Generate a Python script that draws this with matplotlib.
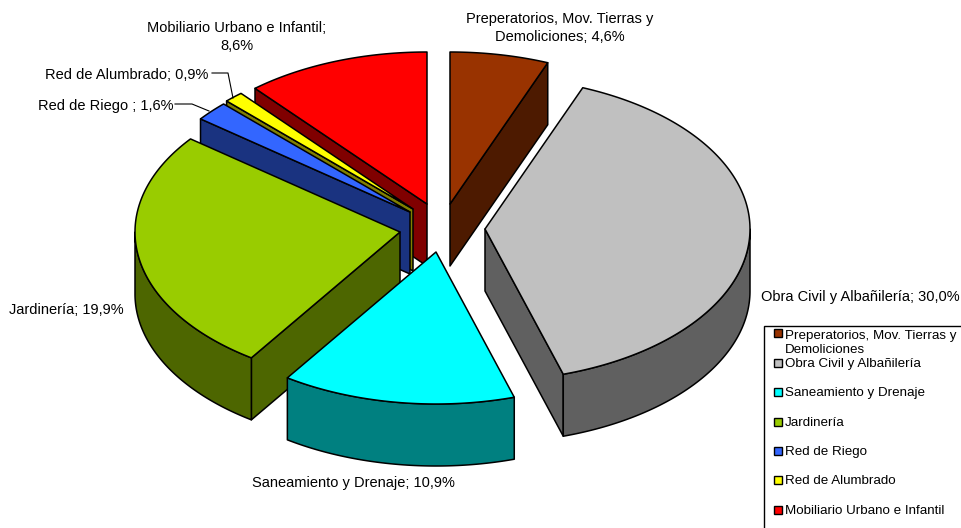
import numpy as np
import matplotlib
matplotlib.use('Agg')
import matplotlib.pyplot as plt
from matplotlib.patches import Rectangle

plt.rcParams['font.family'] = ['Liberation Sans', 'DejaVu Sans']

# Chart data
names = ['Preperatorios, Mov. Tierras y\nDemoliciones', 'Obra Civil y Albañilería',
         'Saneamiento y Drenaje', 'Jardinería', 'Red de Riego', 'Red de Alumbrado',
         'Mobiliario Urbano e Infantil']
values = [4.6, 30.0, 10.9, 19.9, 1.6, 0.9, 8.6]
labels = ['Preperatorios, Mov. Tierras y\nDemoliciones; 4,6%', 'Obra Civil y Albañilería; 30,0%',
          'Saneamiento y Drenaje; 10,9%', 'Jardinería; 19,9%', 'Red de Riego ; 1,6%',
          'Red de Alumbrado; 0,9%', 'Mobiliario Urbano e Infantil;\n8,6%']

# Styles and layout (the axes run in figure pixels)
top_colors = ['#993300', '#C0C0C0', '#00FFFF', '#99CC00', '#3366FF', '#FFFF00', '#FF0000']
side_colors = ['#4D1A00', '#606060', '#008080', '#4D6600', '#1A3380', '#808000', '#800000']
centers = [(450, 204), (485, 229), (436, 252), (400, 232), (410, 212), (413, 209), (427, 204)]
label_pos = [(560, 28, 'center'), (761, 297, 'left'), (252, 483, 'left'), (9, 310, 'left'),
             (38, 106, 'left'), (45, 75, 'left'), (237, 37, 'center')]
draw_order = [0, 6, 5, 4, 3, 1, 2]
rx, ry, depth = 265, 152, 62
lw = 1.1

fig = plt.figure(figsize=(9.62, 5.28), dpi=100)
ax = fig.add_axes([0, 0, 1, 1])
ax.set_xlim(0, 962)
ax.set_ylim(528, 0)
ax.axis('off')

# Slice angles, clockwise from the top
edges = np.concatenate([[0], np.cumsum(values)]) / sum(values) * 360


def rim(i, a, b):
    t = np.radians(np.linspace(a, b, 200))
    cx, cy = centers[i]
    return cx + rx * np.sin(t), cy - ry * np.cos(t)


def face(x, y, color):
    ax.fill(x, y, facecolor=color, edgecolor='black', linewidth=lw, joinstyle='round')


def wall_shows(ang, mid):
    # a radial wall shows if moving down the screen leaves the slice
    dx, dy = rx * np.sin(np.radians(ang)), -ry * np.cos(np.radians(ang))
    mx, my = rx * np.sin(np.radians(mid)), -ry * np.cos(np.radians(mid))
    return dx * (dx * my - dy * mx) < 0


for i in draw_order:
    a, b = edges[i], edges[i + 1]
    cx, cy = centers[i]
    for ang in (a, b):
        if wall_shows(ang, (a + b) / 2):
            ex, ey = rim(i, ang, ang)
            ex, ey = ex[0], ey[0]
            face([cx, ex, ex, cx], [cy, ey, ey + depth, cy + depth], side_colors[i])
    # outer wall, only the front half shows
    lo, hi = max(a, 90), min(b, 270)
    if lo < hi:
        x, y = rim(i, lo, hi)
        face(np.r_[x, x[::-1]], np.r_[y, y[::-1] + depth], side_colors[i])
    # top
    x, y = rim(i, a, b)
    face(np.r_[cx, x], np.r_[cy, y], top_colors[i])

# Data labels
for text, (x, y, ha) in zip(labels, label_pos):
    ax.text(x, y, text, fontsize=10.55, ha=ha, va='center', color='black', linespacing=1.3)

# Leader lines
ax.plot([212, 228, 233], [73, 73, 98], color='black', lw=0.8)
ax.plot([175, 192, 209], [104, 104, 111], color='black', lw=0.8)

# Legend, runs off the right and bottom of the picture
ax.add_patch(Rectangle((764.5, 325.5), 220, 230, facecolor='white', edgecolor='black', lw=1.0))
legend_y = [333, 363, 392, 422, 451, 480, 510]
for name, color, y in zip(names, top_colors, legend_y):
    ax.add_patch(Rectangle((774, y - 4), 8, 8, facecolor=color, edgecolor='black', lw=1.0))
    va_y = y + 10 if '\n' in name else y + 1
    ax.text(785, va_y, name, fontsize=9.6, ha='left', va='center', color='black', linespacing=1.2)

fig.savefig('out.png', dpi=100)
